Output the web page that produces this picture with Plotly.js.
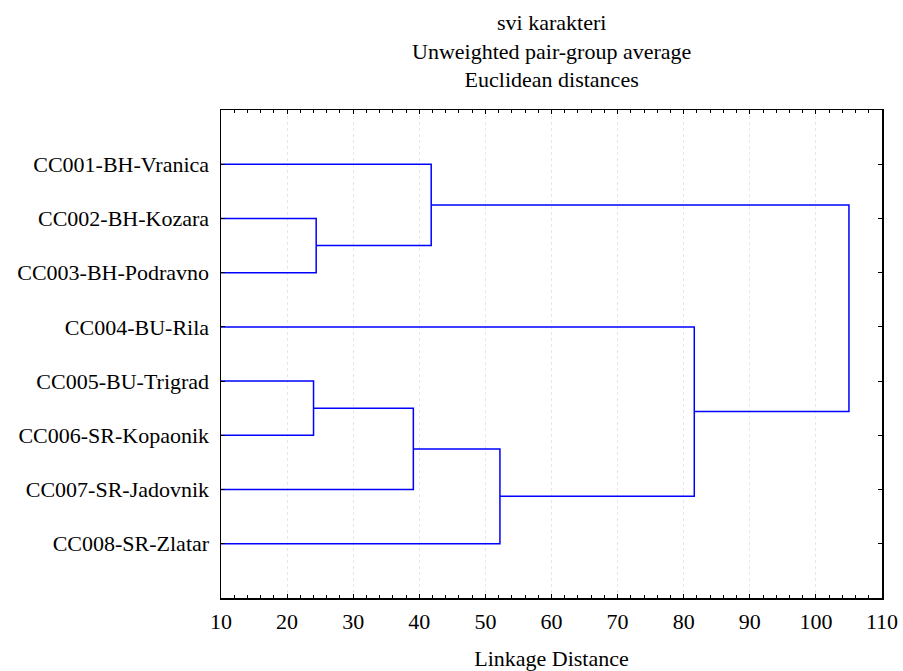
<!DOCTYPE html>
<html>
<head>
<meta charset="utf-8">
<script src="https://cdn.plot.ly/plotly-3.0.1.min.js"></script>
<style>html,body{margin:0;padding:0;background:#fff;}#chart{width:903px;height:671px;}</style>
</head>
<body>
<div id="chart"></div>
<script>
// Leaf labels, top to bottom
const labels = ["CC001-BH-Vranica","CC002-BH-Kozara","CC003-BH-Podravno","CC004-BU-Rila",
                "CC005-BU-Trigrad","CC006-SR-Kopaonik","CC007-SR-Jadovnik","CC008-SR-Zlatar"];
// Merge steps: cluster ids 0..7 are leaves, merge k creates cluster id 8+k
const mergeA = [4, 1, 8, 0, 10, 3, 11];
const mergeB = [5, 2, 6, 9, 7, 12, 13];
const mergeHeight = [24.0, 24.4, 39.1, 41.8, 52.2, 81.6, 105.0];
const leafHeight = 0;
const xTicks = [10,20,30,40,50,60,70,80,90,100,110];
const titleLines = ["svi karakteri", "Unweighted pair-group average", "Euclidean distances"];

const n = labels.length;
const pos = {}, hgt = {};
for (let i = 0; i < n; i++) { pos[i] = i + 1; hgt[i] = leafHeight; }
const xs = [], ys = [];
for (let k = 0; k < mergeA.length; k++) {
  const a = mergeA[k], b = mergeB[k], h = mergeHeight[k];
  xs.push(hgt[a], h, h, hgt[b], null);
  ys.push(pos[a], pos[a], pos[b], pos[b], null);
  pos[n + k] = (pos[a] + pos[b]) / 2;
  hgt[n + k] = h;
}

const font = {family: "Liberation Serif, Times New Roman, serif", size: 22, color: "#000"};
const data = [{
  type: "scatter", mode: "lines", x: xs, y: ys,
  line: {color: "#0000ff", width: 1.5}, hoverinfo: "skip", showlegend: false
}];
const layout = {
  width: 903, height: 671,
  margin: {l: 221, r: 21, t: 110, b: 73},
  paper_bgcolor: "#fff", plot_bgcolor: "#fff",
  font: font,
  annotations: [{
    text: titleLines.join("<br>"), xref: "paper", yref: "paper", x: 0.5, y: 1,
    xanchor: "center", yanchor: "bottom", yshift: 16, showarrow: false, font: font
  }],
  xaxis: {
    range: [10, 110], tickvals: xTicks, ticktext: xTicks.map(String),
    ticks: "inside", ticklen: 4, tickwidth: 1, tickcolor: "#000",
    minor: {dtick: 2, ticks: "inside", ticklen: 3, tickcolor: "#000", showgrid: false},
    showline: true, linecolor: "#000", linewidth: 1.5, mirror: "allticks",
    showgrid: true, gridcolor: "#e6e6e6", griddash: "dot", gridwidth: 1,
    zeroline: false, tickfont: font, ticklabelstandoff: 3,
    title: {text: "Linkage Distance", font: font, standoff: 18}
  },
  yaxis: {
    range: [9, 0], tickvals: labels.map((_, i) => i + 1), ticktext: labels,
    ticks: "inside", ticklen: 4, tickwidth: 1, tickcolor: "#000",
    showline: true, linecolor: "#000", linewidth: 1.5, mirror: "allticks",
    showgrid: false, zeroline: false, tickfont: font, ticklabelstandoff: 6
  }
};
Plotly.newPlot("chart", data, layout, {displayModeBar: false, staticPlot: true});
</script>
</body>
</html>
